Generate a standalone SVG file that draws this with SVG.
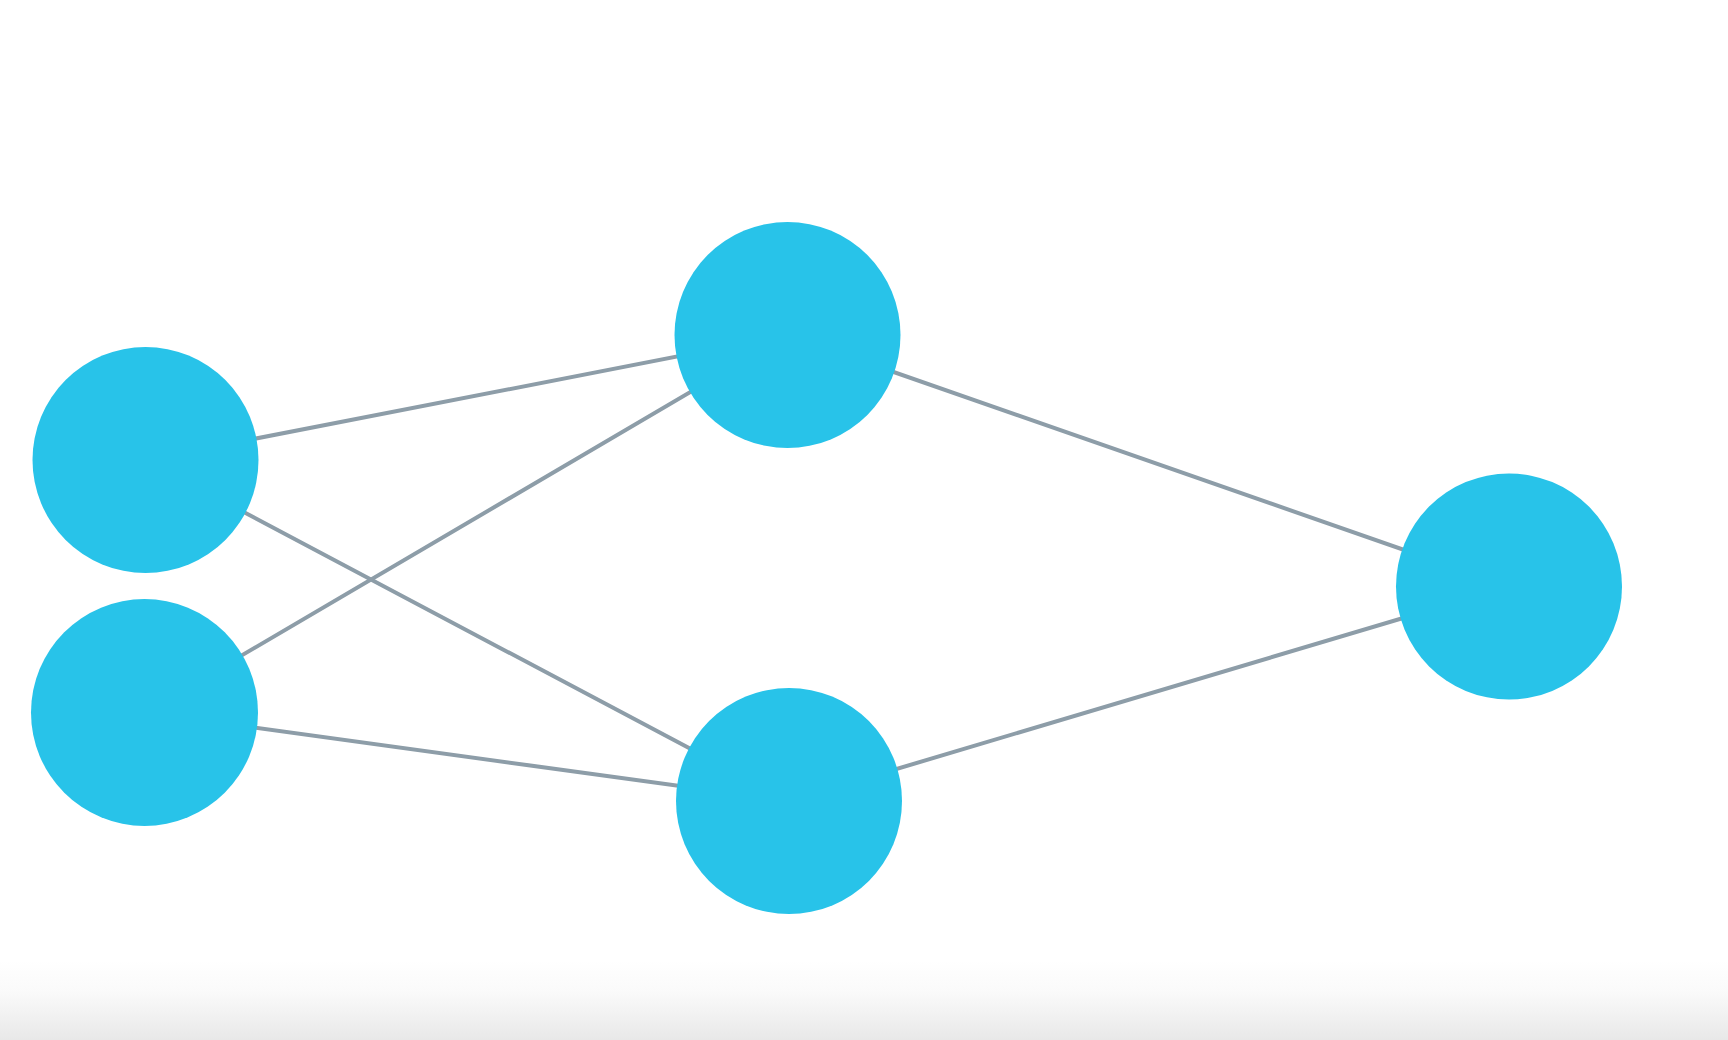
<svg xmlns="http://www.w3.org/2000/svg" width="1728" height="1040" viewBox="0 0 1728 1040">
<style>
.edge{stroke:#8d9da8;stroke-width:4;fill:none;stroke-linecap:round}
.node{fill:#28c3e9}
</style>
<defs>
<linearGradient id="fade" x1="0" y1="0" x2="0" y2="1">
<stop offset="0" stop-color="#ffffff"/>
<stop offset="0.4" stop-color="#fafafa"/>
<stop offset="1" stop-color="#e8e8e8"/>
</linearGradient>
</defs>
<rect width="1728" height="1040" fill="#ffffff"/>
<rect x="0" y="960" width="1728" height="80" fill="url(#fade)"/>
<g id="connectors">
<line class="edge" x1="145.5" y1="460" x2="787.5" y2="335"/>
<line class="edge" x1="145.5" y1="460" x2="789" y2="801"/>
<line class="edge" x1="144.5" y1="712.5" x2="787.5" y2="335"/>
<line class="edge" x1="144.5" y1="712.5" x2="789" y2="801"/>
<line class="edge" x1="787.5" y1="335" x2="1509" y2="586.5"/>
<line class="edge" x1="789" y1="801" x2="1509" y2="586.5"/>
</g>
<g id="node-in1"><circle class="node" cx="145.5" cy="460" r="113"/></g>
<g id="node-in2"><circle class="node" cx="144.5" cy="712.5" r="113.5"/></g>
<g id="node-h1"><circle class="node" cx="787.5" cy="335" r="113"/></g>
<g id="node-h2"><circle class="node" cx="789" cy="801" r="113"/></g>
<g id="node-out"><circle class="node" cx="1509" cy="586.5" r="113"/></g>
</svg>
